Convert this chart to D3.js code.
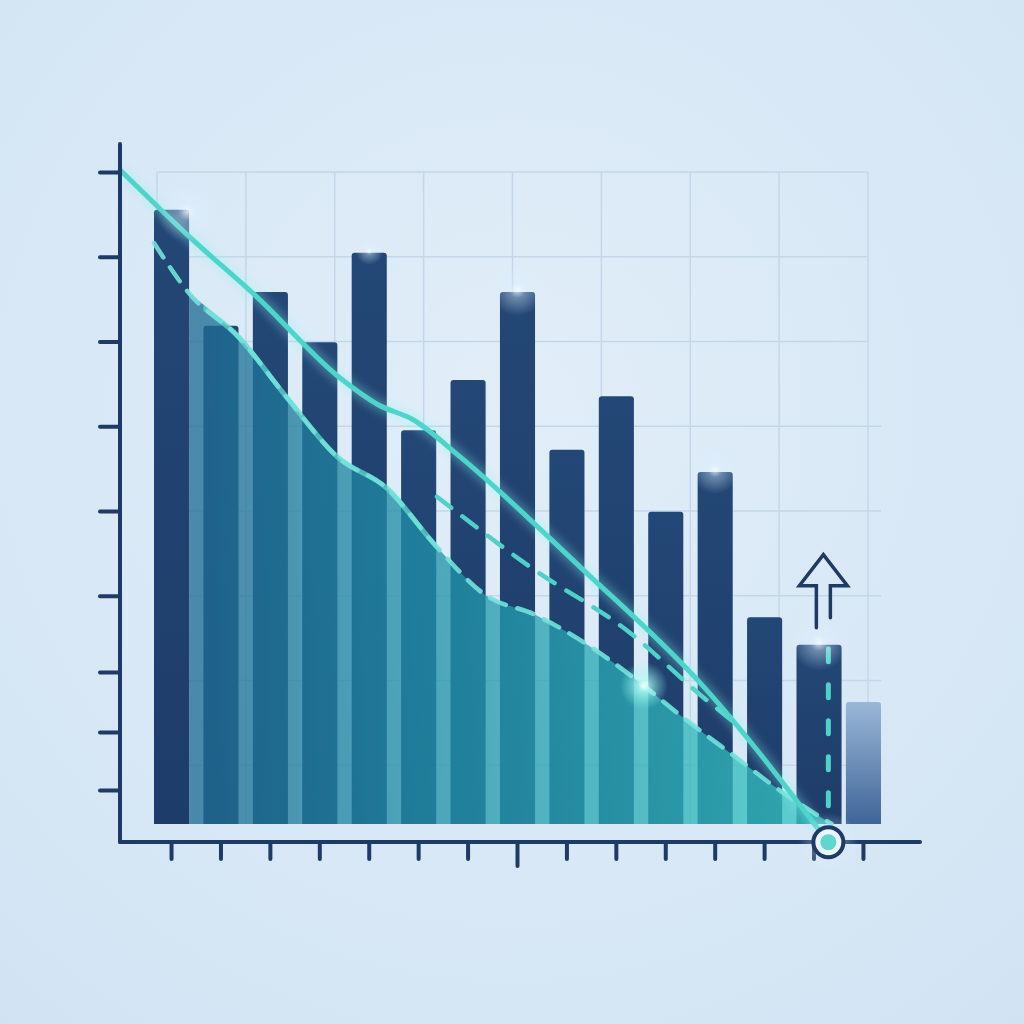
<!DOCTYPE html>
<html><head><meta charset="utf-8">
<script src="https://cdn.jsdelivr.net/npm/d3@7/dist/d3.min.js"></script>
<style>html,body{margin:0;padding:0;background:#d9e8f5;overflow:hidden}svg{display:block}</style>
</head><body>
<svg id="chart" width="1024" height="1024"></svg>
<script>
// ---------- data ----------
const categories = ["P1","P2","P3","P4","P5","P6","P7","P8","P9","P10","P11","P12","P13","P14","P15"];
const barValues = [94.2, 76.4, 81.6, 73.9, 87.6, 60.4, 68.1, 81.6, 57.4, 65.6, 47.9, 54.0, 31.7, 27.5, 18.7];
const barKinds  = ["actual","actual","actual","actual","actual","actual","actual","actual","actual","actual","actual","actual","actual","actual","projected"];
// cumulative area, read at the right edge of categories P1..P14
const areaValues = [81.4, 74.7, 65.2, 56.3, 51.5, 42.6, 35.1, 32.1, 27.8, 22.4, 16.3, 10.6, 4.9, 0];
const areaLeadValue = 89.1;              // start of the area outline (left edge of P1)
// trend line (x in category index units)
const trendX = [-1.04, 0.37, 1.73, 3.41, 4.18, 4.89, 5.84, 8.27, 10.7, 13.29];
const trendY = [100.3, 90.0, 80.8, 68.4, 64.3, 62.0, 56.3, 39.4, 21.6, -2.8];
// dashed forecast line
const forecastX = [5.37, 7.26, 9.28, 10.7, 11.5];
const forecastY = [50.2, 39.4, 29.3, 19.8, 14.9];
const yTickValues = [100, 87, 74, 61, 48, 35, 23.3, 14.1, 5.2];
const yGridValues = [100, 87, 74, 61, 48, 35, 22, 9];
const xGridValues = [0, 1, 2, 3, 4, 5, 6, 7, 8];
const highlightIndex = 13;

// ---------- setup ----------
const svg = d3.select("#chart");
const defs = svg.append("defs");
const NAVY = "#1e3a66";

const bgGrad = defs.append("radialGradient").attr("id","bg").attr("cx","50%").attr("cy","40%").attr("r","80%");
bgGrad.append("stop").attr("offset","0%").attr("stop-color","#e1eef9");
bgGrad.append("stop").attr("offset","100%").attr("stop-color","#d1e3f3");
svg.append("rect").attr("width",1024).attr("height",1024).attr("fill","url(#bg)");

const x = d3.scaleBand().domain(categories).range([154, 881]).paddingInner(0.29).paddingOuter(0);
const bw = x.bandwidth();
const xi = d3.scaleLinear().domain([0, categories.length - 1])
  .range([x(categories[0]) + bw/2, x(categories[categories.length-1]) + bw/2]);
const y = d3.scaleLinear().domain([0, 100]).range([824, 172]);
const xg = d3.scaleLinear().domain([0, 8]).range([157, 868]);

// gradients
const areaGrad = defs.append("linearGradient").attr("id","areaGrad")
  .attr("gradientUnits","userSpaceOnUse").attr("x1",x(categories[0])+bw).attr("x2",x(categories[13])+bw).attr("y1",0).attr("y2",0);
areaGrad.append("stop").attr("offset","0%").attr("stop-color","#1e6991");
areaGrad.append("stop").attr("offset","35%").attr("stop-color","#1f8fa8");
areaGrad.append("stop").attr("offset","100%").attr("stop-color","#36c8c3");

const barGrad = defs.append("linearGradient").attr("id","barGrad").attr("x1",0).attr("x2",0).attr("y1",0).attr("y2",1);
barGrad.append("stop").attr("offset","0%").attr("stop-color","#234776");
barGrad.append("stop").attr("offset","100%").attr("stop-color","#1e3c69");

const projGrad = defs.append("linearGradient").attr("id","projGrad").attr("x1",0).attr("x2",0).attr("y1",0).attr("y2",1);
projGrad.append("stop").attr("offset","0%").attr("stop-color","#9ab7d7");
projGrad.append("stop").attr("offset","100%").attr("stop-color","#3f6598");

const glowGrad = defs.append("radialGradient").attr("id","glow");
glowGrad.append("stop").attr("offset","0%").attr("stop-color","#f4fbff").attr("stop-opacity",0.85);
glowGrad.append("stop").attr("offset","30%").attr("stop-color","#dcefff").attr("stop-opacity",0.4);
glowGrad.append("stop").attr("offset","100%").attr("stop-color","#dcefff").attr("stop-opacity",0);

const tealGlow = defs.append("radialGradient").attr("id","tealGlow");
tealGlow.append("stop").attr("offset","0%").attr("stop-color","#ffffff").attr("stop-opacity",1);
tealGlow.append("stop").attr("offset","25%").attr("stop-color","#b8fff6").attr("stop-opacity",0.7);
tealGlow.append("stop").attr("offset","100%").attr("stop-color","#7ff5ea").attr("stop-opacity",0);

const blur = defs.append("filter").attr("id","blur").attr("x","-20%").attr("y","-20%").attr("width","140%").attr("height","140%");
blur.append("feGaussianBlur").attr("stdDeviation",4);

// ---------- grid ----------
const grid = svg.append("g").attr("stroke","#c4d7e9").attr("stroke-width",1.5);
grid.selectAll("line.h").data(yGridValues).join("line").attr("class","h")
  .attr("x1",xg(0)).attr("x2",d => d > 70 ? xg(8) : xg(8) + 13).attr("y1",d=>y(d)).attr("y2",d=>y(d));
grid.selectAll("line.v").data(xGridValues).join("line").attr("class","v")
  .attr("x1",d=>xg(d)).attr("x2",d=>xg(d)).attr("y1",y(100)).attr("y2",y(0));

// ---------- bars ----------
function topRounded(x0, y0, w, h, r) {
  return `M${x0},${y0+h}V${y0+r}Q${x0},${y0} ${x0+r},${y0}H${x0+w-r}Q${x0+w},${y0} ${x0+w},${y0+r}V${y0+h}Z`;
}
const barData = categories.map((c,i)=>({c, v: barValues[i], kind: barKinds[i], i}));
svg.append("g").selectAll("path").data(barData).join("path")
  .attr("d", d => topRounded(x(d.c), y(d.v), d.i === highlightIndex ? bw + 10 : bw, y(0) - y(d.v), 3))
  .attr("fill", d => d.kind === "projected" ? "url(#projGrad)" : "url(#barGrad)");

// ---------- area ----------
const areaPts = areaValues.map((v,i)=>[x(categories[i]) + bw, y(v)]);
const area = d3.area().x(d=>d[0]).y0(y(0)).y1(d=>d[1]).curve(d3.curveMonotoneX);
svg.append("path").datum(areaPts).attr("d", area).attr("fill","url(#areaGrad)").attr("opacity",0.76);

const edgePts = [[x(categories[0]), y(areaLeadValue)]].concat(areaPts);
const edgeLine = d3.line().x(d=>d[0]).y(d=>d[1]).curve(d3.curveMonotoneX);
defs.append("clipPath").attr("id","midClip").append("rect")
  .attr("x", x(categories[1])).attr("y",0).attr("width", x(categories[5]) + bw - x(categories[1])).attr("height",1024);
svg.append("path").datum(edgePts).attr("d", edgeLine).attr("fill","none")
  .attr("stroke","#5fd8d0").attr("stroke-width",5).attr("opacity",0.75).attr("clip-path","url(#midClip)");
svg.append("path").datum(edgePts).attr("d", edgeLine).attr("fill","none")
  .attr("stroke","#72e2da").attr("stroke-width",4.5).attr("stroke-linecap","round")
  .attr("stroke-dasharray","17,12").attr("opacity",0.9);

// ---------- forecast dashed line ----------
const fLine = d3.line().x(d=>xi(d[0])).y(d=>y(d[1])).curve(d3.curveMonotoneX);
svg.append("path").datum(forecastX.map((v,i)=>[v, forecastY[i]])).attr("d", fLine)
  .attr("fill","none").attr("stroke","#4fd0c8").attr("stroke-width",4.5)
  .attr("stroke-linecap","round").attr("stroke-dasharray","18,14");

// ---------- vertical highlight dashed line ----------
const hx = xi(trendX[trendX.length-1]);
svg.append("line").attr("x1",hx).attr("x2",hx).attr("y1", y(barValues[highlightIndex]) + 4).attr("y2", y(0))
  .attr("stroke","#4fd3c9").attr("stroke-width",5).attr("stroke-linecap","round").attr("stroke-dasharray","13,23");

// ---------- trend line ----------
const tPts = trendX.map((v,i)=>[v, trendY[i]]);
const tLine = d3.line().x(d=>xi(d[0])).y(d=>y(d[1])).curve(d3.curveMonotoneX);
svg.append("path").datum(tPts).attr("d", tLine).attr("fill","none")
  .attr("stroke","#8ff5ec").attr("stroke-width",12).attr("opacity",0.3).attr("filter","url(#blur)");
svg.append("path").datum(tPts).attr("d", tLine).attr("fill","none")
  .attr("stroke","#4dd5cb").attr("stroke-width",5).attr("stroke-linecap","round").attr("stroke-linejoin","round");

// ---------- glows ----------
const glows = [
  {cx: x(categories[0]) + bw - 2, cy: y(barValues[0]) + 2, r: 30},
  {cx: x(categories[7]) + bw/2, cy: y(barValues[7]) - 2, r: 26},
  {cx: x(categories[11]) + bw/2, cy: y(barValues[11]) - 2, r: 24},
  {cx: x(categories[13]) + bw/2 + 5, cy: y(barValues[13]) - 2, r: 28},
  {cx: x(categories[4]) + bw/2, cy: y(barValues[4]) - 2, r: 14}
];
svg.append("g").selectAll("circle").data(glows).join("circle")
  .attr("cx",d=>d.cx).attr("cy",d=>d.cy).attr("r",d=>d.r).attr("fill","url(#glow)");
svg.append("circle").attr("cx", x(categories[9]) + bw + 10).attr("cy", y(areaValues[9]) + 8).attr("r", 24).attr("fill","url(#tealGlow)");

// ---------- axes ----------
const yAxis = svg.append("g").attr("transform","translate(120,0)")
  .call(d3.axisLeft(y).tickValues(yTickValues).tickSize(20).tickFormat(""));
yAxis.select(".domain").remove();
yAxis.selectAll(".tick line").attr("stroke",NAVY).attr("stroke-width",4).attr("stroke-linecap","round");

const xAxis = svg.append("g").attr("transform","translate(0,842)")
  .call(d3.axisBottom(x).tickSize(17).tickFormat(""));
xAxis.select(".domain").remove();
xAxis.selectAll(".tick line").attr("stroke",NAVY).attr("stroke-width",4).attr("stroke-linecap","round")
  .attr("y2",(d,i)=> i === 7 ? 24 : 17);

svg.append("line").attr("x1",120).attr("x2",120).attr("y1",144).attr("y2",842)
  .attr("stroke",NAVY).attr("stroke-width",4).attr("stroke-linecap","round");
svg.append("line").attr("x1",120).attr("x2",920).attr("y1",842).attr("y2",842)
  .attr("stroke",NAVY).attr("stroke-width",4).attr("stroke-linecap","round");

// ---------- marker ----------
const my = y(trendY[trendY.length-1]);
svg.append("circle").attr("cx",hx).attr("cy",my).attr("r",30).attr("fill","url(#glow)");
svg.append("circle").attr("cx",hx).attr("cy",my).attr("r",15).attr("fill","#eaf5fb").attr("stroke",NAVY).attr("stroke-width",4);
svg.append("circle").attr("cx",hx).attr("cy",my).attr("r",8).attr("fill","#5cd9cc");

// ---------- up arrow ----------
const ax = hx - 5;
const aTop = y(barValues[highlightIndex]) - 90;
const arrowPath = `M${ax-7},${aTop+73} V${aTop+31} H${ax-24} L${ax},${aTop} L${ax+24},${aTop+31} H${ax+7} V${aTop+63}`;
svg.append("path").attr("d", arrowPath).attr("fill","none").attr("stroke",NAVY)
  .attr("stroke-width",3.5).attr("stroke-linejoin","miter").attr("stroke-linecap","round");
</script>
</body></html>
